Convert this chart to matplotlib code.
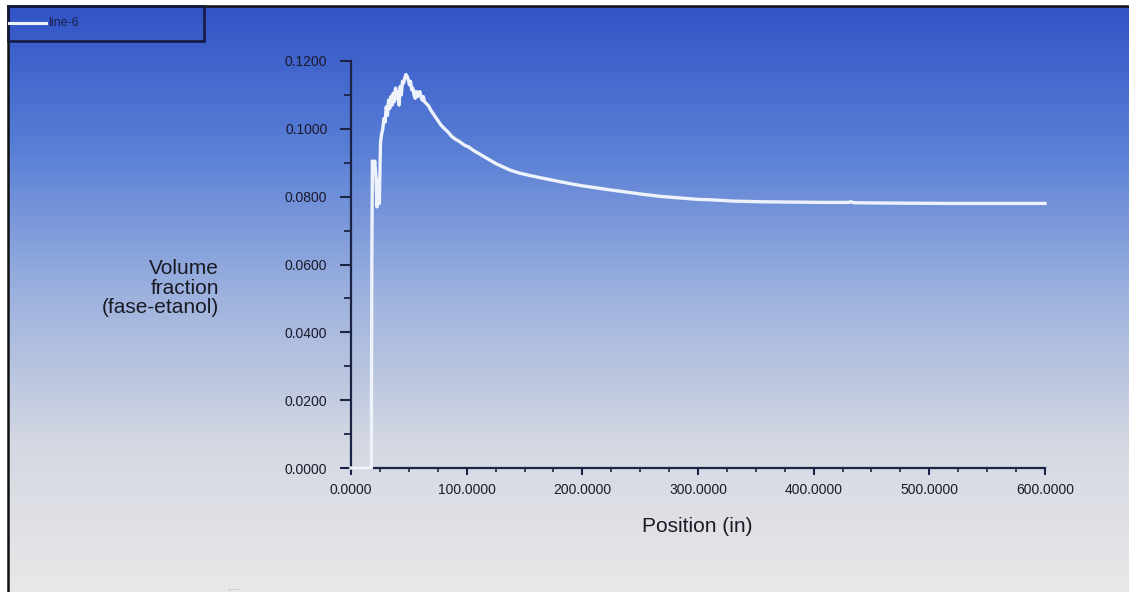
import numpy as np
import matplotlib
matplotlib.use("Agg")
import matplotlib.pyplot as plt
from matplotlib.patches import Rectangle
from matplotlib.lines import Line2D
from matplotlib.colors import LinearSegmentedColormap

plt.rcParams['font.family'] = ['Liberation Sans', 'DejaVu Sans']

# ------------------ DATOS ------------------
posicion = [0, 17.0, 17.6, 18.0, 18.5, 19.5, 20.5, 21.5, 22.5, 23.5, 24.5, 25.5,
            26.5, 27.5, 28.5, 29.5, 30.5, 31.5, 32.5, 33.5, 34.5, 35.5, 36.5,
            37.5, 38.5, 39.5, 40.5, 41.5, 42.5, 43.5, 44.5, 45.5, 46.5, 47.5,
            48.5, 49.5, 50.5, 51.5, 52.5, 53.5, 54.5, 55.5, 56.5, 57.5, 58.5,
            59.5, 60.5, 61.5, 62.5, 63.5, 65, 67, 69, 71, 73, 75, 78, 81, 84,
            87, 90, 94, 98, 102, 106, 110, 115, 120, 125, 130, 137, 145, 155,
            165, 175, 181, 190, 200, 212, 224, 235, 250, 267, 285, 300, 310,
            330, 354, 380, 410, 430, 432, 435, 470, 520, 560, 600]
fraccion = [0.0, 0.0, 0.0, 0.0600, 0.0905, 0.0870, 0.0905, 0.0862, 0.0770,
            0.0850, 0.0780, 0.0960, 0.0985, 0.1000, 0.1030, 0.1020, 0.1065,
            0.1040, 0.1085, 0.1060, 0.1095, 0.1070, 0.1105, 0.1080, 0.1120,
            0.1090, 0.1110, 0.1070, 0.1125, 0.1100, 0.1140, 0.1135, 0.1150,
            0.1160, 0.1155, 0.1145, 0.1130, 0.1140, 0.1115, 0.1120, 0.1100,
            0.1090, 0.1110, 0.1095, 0.1100, 0.1110, 0.1095, 0.1085, 0.1095,
            0.1080, 0.1075, 0.1068, 0.1055, 0.1045, 0.1035, 0.1025, 0.1010,
            0.1000, 0.0990, 0.0978, 0.0970, 0.0962, 0.0952, 0.0946, 0.0936,
            0.0928, 0.0918, 0.0908, 0.0898, 0.0890, 0.0879, 0.0870, 0.0862,
            0.0855, 0.0848, 0.0844, 0.0838, 0.0832, 0.0826, 0.0820, 0.0815,
            0.0808, 0.0801, 0.0796, 0.0792, 0.0791, 0.0787, 0.0785, 0.0784,
            0.0783, 0.0783, 0.0785, 0.0782, 0.0781, 0.0780, 0.0780, 0.0780]

xticks = [0, 100, 200, 300, 400, 500, 600]
yticks = [0.0, 0.02, 0.04, 0.06, 0.08, 0.10, 0.12]
nombre_serie = "line-6"

# ------------------ FIGURA ------------------
W, H = 1129, 592
fig = plt.figure(figsize=(W / 100, H / 100), dpi=100, facecolor='white')

def fx(px):
    return px / W

def fy(py):
    return 1 - py / H

# fondo degradado (estilo Fluent)
bg = fig.add_axes([fx(8), 0, 1 - fx(8), fy(6)])
cmap = LinearSegmentedColormap.from_list(
    'fluent', ['#3153c6', '#5a80d6', '#9fb3de', '#d4d8e2', '#e8e8e8'])
grad = np.linspace(0, 1, 256).reshape(-1, 1)
bg.imshow(grad, aspect='auto', cmap=cmap, extent=[0, 1, 0, 1], origin='upper')
bg.set_xticks([])
bg.set_yticks([])
for s in ['right', 'bottom']:
    bg.spines[s].set_visible(False)
for s in ['left', 'top']:
    bg.spines[s].set_color('#111111')
    bg.spines[s].set_linewidth(1.8)

# ejes principales
oscuro = '#1b2444'
ax = fig.add_axes([fx(351), fy(468), fx(1045) - fx(351), fy(61) - fy(468)])
ax.patch.set_alpha(0)
ax.plot(posicion, fraccion, color='#eef2fa', linewidth=2.4,
        solid_joinstyle='round', zorder=5, clip_on=False)
ax.set_xlim(0, 600)
ax.set_ylim(0, 0.12)

ax.spines['top'].set_visible(False)
ax.spines['right'].set_visible(False)
for s in ['left', 'bottom']:
    ax.spines[s].set_color(oscuro)
    ax.spines[s].set_linewidth(1.6)

ax.set_xticks(xticks)
ax.set_xticklabels([f"{v:.4f}" for v in xticks])
ax.set_xticks(np.arange(0, 601, 25), minor=True)
ax.set_yticks(yticks)
ax.set_yticklabels([f"{v:.4f}" for v in yticks])
ax.set_yticks(np.arange(0, 0.1201, 0.01), minor=True)

ax.tick_params(axis='y', which='major', direction='out', length=8, width=1.5,
               color=oscuro, labelcolor='#1a1a2a', labelsize=10, pad=9)
ax.tick_params(axis='y', which='minor', direction='out', length=5, width=1.3,
               color=oscuro)
ax.tick_params(axis='x', which='major', direction='out', length=5, width=1.5,
               color=oscuro, labelcolor='#1a1a2a', labelsize=10, pad=6)
ax.tick_params(axis='x', which='minor', direction='out', length=3, width=1.2,
               color=oscuro)

# títulos de ejes
fig.text(fx(697), fy(527), "Position (in)", fontsize=15, color='#1a1a24',
         ha='center', va='center')
fig.text(fx(219), fy(288), "Volume\nfraction\n(fase-etanol)", fontsize=15,
         color='#1a1a24', ha='right', va='center', multialignment='right',
         linespacing=1.02)

# leyenda
fig.add_artist(Rectangle((fx(8), fy(41)), fx(204) - fx(8), fy(6) - fy(41),
                         transform=fig.transFigure, fill=False,
                         edgecolor='#14183a', linewidth=1.8))
fig.add_artist(Line2D([fx(9), fx(46)], [fy(23), fy(23)], transform=fig.transFigure,
                      color='#eef2fa', linewidth=2.2))
fig.text(fx(48), fy(23), nombre_serie, fontsize=9, color='#18204a',
         ha='left', va='center')

fig.text(fx(234), fy(589), "......", fontsize=6, color='#9a9aa0',
         ha='center', va='center')

fig.savefig("out.png", dpi=100)
